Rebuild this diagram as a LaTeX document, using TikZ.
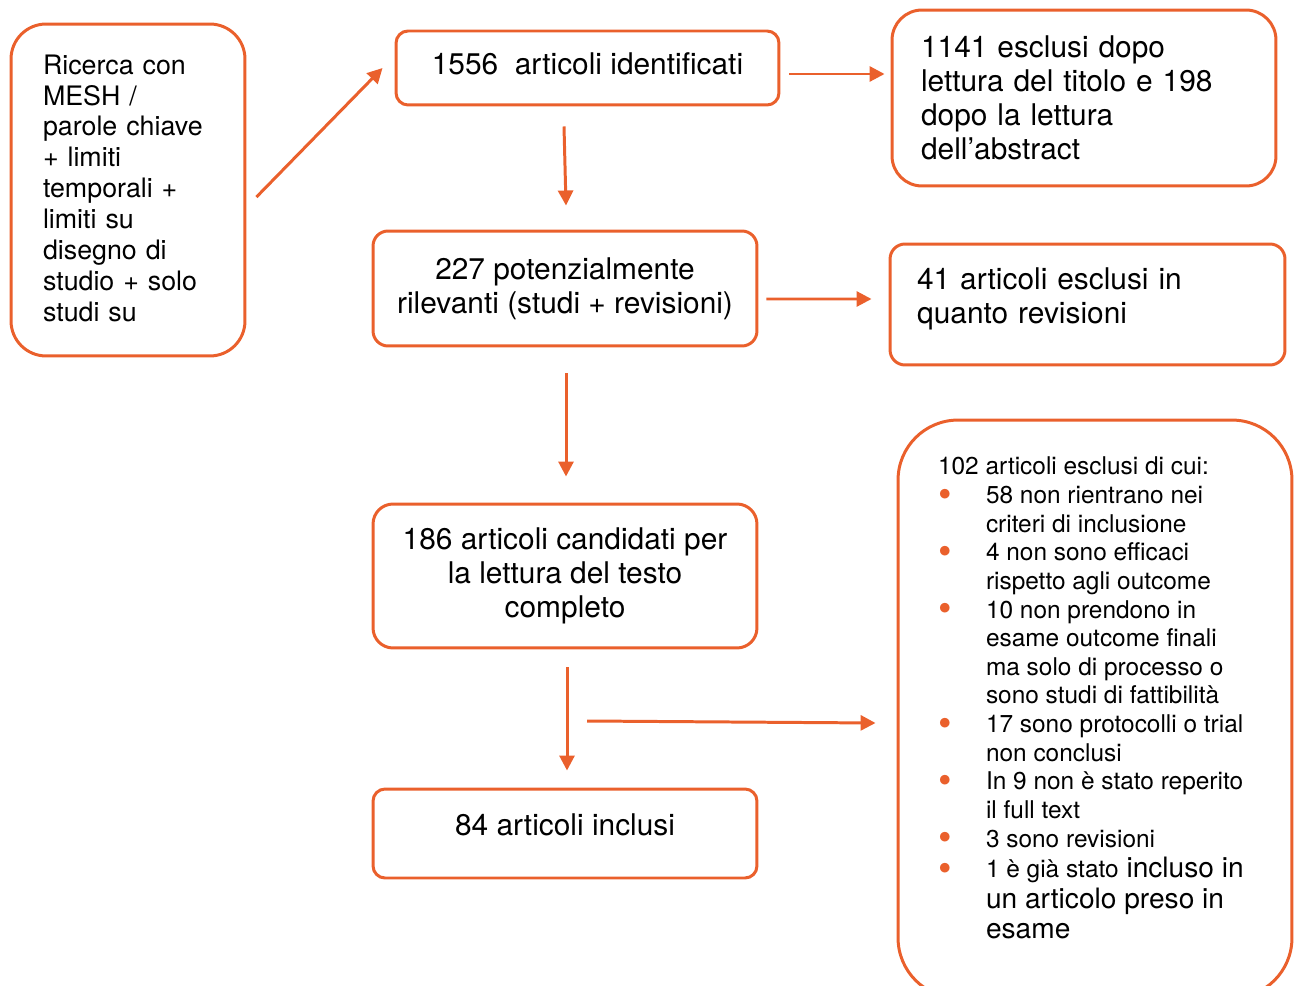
\documentclass[tikz,border=0pt]{standalone}
\usepackage{fontspec}
\setmainfont{TeX Gyre Heros}
\usepackage{xcolor}
\usetikzlibrary{arrows.meta,calc}
\definecolor{flowor}{RGB}{234,96,44}
\newcommand{\blt}{\makebox[0.96cm][l]{\textcolor{flowor}{\raisebox{-2pt}[0pt][0pt]{\fontsize{22}{16}\selectfont\textbullet}}}}
\newcommand{\ind}{\hspace*{0.96cm}}

\begin{document}
\begin{tikzpicture}[x=0.02cm, y=-0.02cm,
  box/.style={draw=flowor, line width=1.7pt, rounded corners=#1, inner sep=0pt,
    font=\fontsize{17}{19.3}\selectfont},
  arr/.style={draw=flowor, line width=1.7pt, -{Triangle[length=0.3cm,width=0.3cm]}}]

\path[use as bounding box, clip] (0,0) rectangle (1294,986);

\node (ricerca) at (128,190) [box=0.7cm, minimum width=4.68cm, minimum height=6.64cm,
  text width=3.4cm, align=left, font=\fontsize{15.25}{17.6}\selectfont, text depth=143pt]
  {Ricerca con\\ MESH /\\ parole chiave\\ + limiti\\ temporali +\\ limiti su\\ disegno di\\ studio + solo\\ studi su};

\node (id) at (587.5,68) [box=0.24cm, minimum width=7.66cm, minimum height=1.48cm, text depth=0.16cm]
  {1556\ \ articoli identificati};
\node (excl1) at (1084,98) [box=0.6cm, minimum width=7.68cm, minimum height=3.52cm,
  text width=6.52cm, align=left]
  {1141 esclusi dopo\\ lettura del titolo e 198\\ dopo la lettura\\ dell’abstract};

\node (pot) at (565,288.5) [box=0.3cm, minimum width=7.68cm, minimum height=2.3cm, align=center]
  {227 potenzialmente\\ rilevanti (studi + revisioni)};
\node (rev) at (1087.5,304.5) [box=0.3cm, minimum width=7.9cm, minimum height=2.42cm,
  text width=6.82cm, align=left, text depth=29.7pt]
  {41 articoli esclusi in\\ quanto revisioni};

\node (cand) at (565,576) [box=0.4cm, minimum width=7.68cm, minimum height=2.88cm, align=center]
  {186 articoli candidati per\\ la lettura del testo\\ completo};
\node (incl) at (565,833.5) [box=0.24cm, minimum width=7.68cm, minimum height=1.78cm, text depth=0.36cm]
  {84 articoli inclusi};

\node (excl2) at (1095,709) [box=1.2cm, minimum width=7.88cm, minimum height=11.56cm]
  {\parbox[c][10.08cm][t]{6.28cm}{\fontsize{13.9}{16.3}\selectfont\raggedright\parskip=0pt
  102 articoli esclusi di cui:\\
  \blt 58 non rientrano nei\\
  \ind criteri di inclusione\\
  \blt 4 non sono efficaci\\
  \ind rispetto agli outcome\\
  \blt 10 non prendono in\\
  \ind esame outcome finali\\
  \ind ma solo di processo o\\
  \ind sono studi di fattibilità\\
  \blt 17 sono protocolli o trial\\
  \ind non conclusi\\
  \blt In 9 non è stato reperito\\
  \ind il full text\\
  \blt 3 sono revisioni\par
  \fontsize{16}{17.4}\selectfont
  {\fontsize{13.9}{17.4}\selectfont\blt 1 è già stato} incluso in\\
  \ind un articolo preso in\\
  \ind esame}};

\coordinate (s) at (587,721);

\draw[arr] ($(ricerca.east)+(10,7)$) -- ($(id.west)+(-12,0)$);
\draw[arr] ($(id.east)+(9,6)$) -- ($(id.east -| excl1.west)+(-6,6)$);
\draw[arr] ($(pot.north |- id.south)+(-1,20)$) -- ($(pot.north)+(1,-24)$);
\draw[arr] ($(pot.east)+(8,10.5)$) -- ($(rev.west)+(-17,-5.5)$);
\draw[arr] ($(pot.south)+(1,26)$) -- ($(cand.north)+(1,-26)$);
\draw[arr] ($(cand.south)+(2,18)$) -- ($(incl.north)+(2,-17)$);
\draw[arr] (s) -- ($(excl2.west)+(-21,14)$);

\end{tikzpicture}
\end{document}
